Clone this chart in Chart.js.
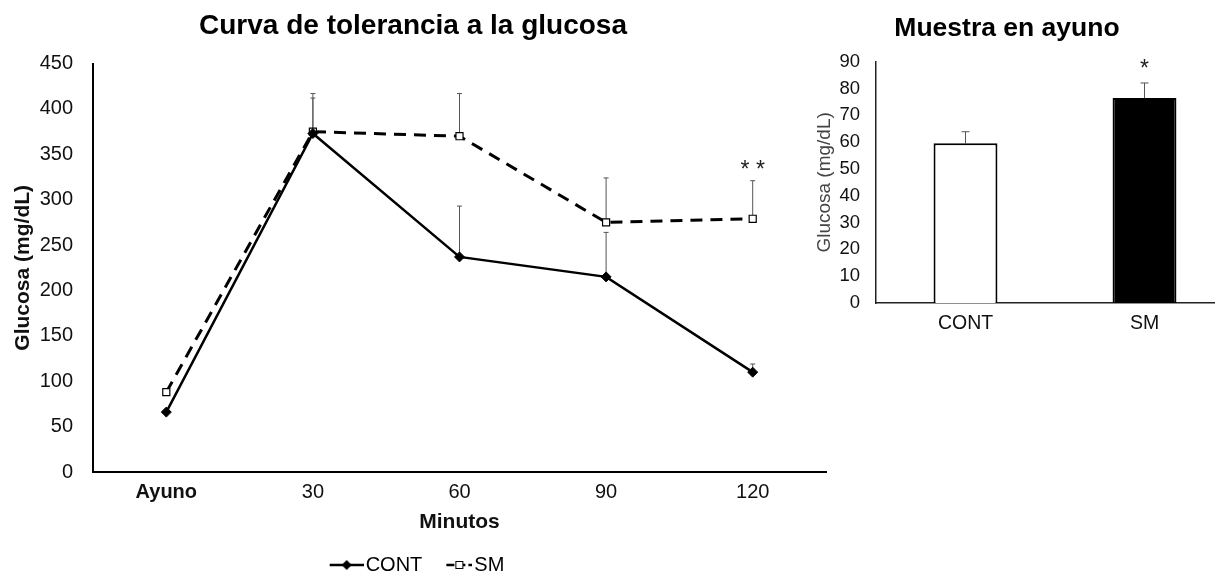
<!DOCTYPE html>
<html>
<head>
<meta charset="utf-8">
<script src="https://cdn.jsdelivr.net/npm/chart.js@4.4.1/dist/chart.umd.min.js"></script>
<style>
  html, body { margin: 0; padding: 0; background: #fff; overflow: hidden; }
  body { width: 1215px; height: 575px; position: relative; }
  #curva { position: absolute; left: 0; top: 0; }
  #ayuno { position: absolute; left: 780px; top: 0; }
</style>
</head>
<body>
<canvas id="curva" width="846" height="575"></canvas>
<canvas id="ayuno" width="460" height="575"></canvas>
<script>
// curva de tolerancia (mg/dL)
var tiempos = ["Ayuno", "30", "60", "90", "120"];
var contMedia = [66, 373, 237, 215, 110];
var contError = [0, 39, 56, 49, 9];
var smMedia = [88, 375, 370, 275, 279];
var smError = [0, 42, 47, 49, 42];
var smSignif = ["", "", "", "", "* *"];
var curvaTicks = [0, 50, 100, 150, 200, 250, 300, 350, 400, 450];

// muestra en ayuno (mg/dL)
var grupos = ["CONT", "SM"];
var ayunoMedia = [59.6, 76.5];
var ayunoError = [4.3, 5.6];
var ayunoSignif = ["", "*"];
var ayunoTicks = [0, 10, 20, 30, 40, 50, 60, 70, 80, 90];

var FUENTE = "'Liberation Sans', Arial, sans-serif";
Chart.defaults.font.family = FUENTE;
Chart.defaults.color = "#111";

// barras de error hacia arriba + asteriscos
var barrasError = {
  id: "barrasError",
  beforeDatasetsDraw: function (chart) {
    var ctx = chart.ctx;
    var yScale = chart.scales.y;
    chart.data.datasets.forEach(function (ds, i) {
      if (!ds.errores) return;
      var meta = chart.getDatasetMeta(i);
      var cap = ds.capa || 3;
      meta.data.forEach(function (el, j) {
        var err = ds.errores[j];
        if (!err) return;
        var y0 = yScale.getPixelForValue(ds.data[j]);
        var y1 = yScale.getPixelForValue(ds.data[j] + err);
        ctx.save();
        ctx.strokeStyle = "#555";
        ctx.lineWidth = 1;
        ctx.beginPath();
        ctx.moveTo(el.x, y0);
        ctx.lineTo(el.x, y1);
        ctx.moveTo(el.x - cap, y1);
        ctx.lineTo(el.x + cap, y1);
        ctx.stroke();
        ctx.restore();
      });
    });
  },
  afterDatasetsDraw: function (chart) {
    var ctx = chart.ctx;
    var yScale = chart.scales.y;
    chart.data.datasets.forEach(function (ds, i) {
      if (!ds.signif) return;
      var meta = chart.getDatasetMeta(i);
      meta.data.forEach(function (el, j) {
        if (!ds.signif[j]) return;
        var yTop = yScale.getPixelForValue(ds.data[j] + (ds.errores[j] || 0));
        ctx.save();
        ctx.font = "23px " + FUENTE;
        ctx.fillStyle = "#222";
        ctx.textAlign = "center";
        ctx.textBaseline = "alphabetic";
        ctx.fillText(ds.signif[j], el.x, yTop - ds.signifGap);
        ctx.restore();
      });
    });
  }
};

// icono de leyenda: linea con marcador al centro (desplazado hacia el texto)
function iconoLeyenda(relleno, forma, discontinua) {
  var c = document.createElement("canvas");
  c.width = 50;
  c.height = 12;
  var g = c.getContext("2d");
  var x0 = discontinua ? 24 : 16;
  var cx = (x0 + 50) / 2;
  g.strokeStyle = "#000";
  g.lineWidth = 2.5;
  if (discontinua) g.setLineDash([8, 3]);
  g.beginPath();
  g.moveTo(x0, 6);
  g.lineTo(50, 6);
  g.stroke();
  g.setLineDash([]);
  g.fillStyle = relleno;
  g.lineWidth = 1;
  if (forma === "rombo") {
    g.beginPath();
    g.moveTo(cx, 1);
    g.lineTo(cx + 5, 6);
    g.lineTo(cx, 11);
    g.lineTo(cx - 5, 6);
    g.closePath();
    g.fill();
  } else {
    g.fillRect(cx - 4, 2, 8, 8);
    g.strokeRect(cx - 3.5, 2.5, 7, 7);
  }
  return c;
}

var iconos = [iconoLeyenda("#000", "rombo", false), iconoLeyenda("#fff", "cuadro", true)];

var curvaData = {
  labels: tiempos,
  datasets: [
    {
      label: "CONT",
      data: contMedia,
      errores: contError,
      capa: 2.5,
      borderColor: "#000",
      borderWidth: 2.5,
      pointStyle: "rectRot",
      pointRadius: 5,
      pointBackgroundColor: "#000",
      pointBorderColor: "#000",
      pointBorderWidth: 1,
      tension: 0
    },
    {
      label: "SM",
      data: smMedia,
      errores: smError,
      capa: 2.5,
      signif: smSignif,
      signifGap: 4,
      borderColor: "#000",
      borderWidth: 3,
      borderDash: [12, 8],
      pointStyle: "rect",
      pointRadius: 5,
      pointBackgroundColor: "#fff",
      pointBorderColor: "#000",
      pointBorderWidth: 1.2,
      tension: 0
    }
  ]
};

new Chart(document.getElementById("curva"), {
  type: "line",
  data: curvaData,
  plugins: [barrasError],
  options: {
    responsive: false,
    animation: false,
    layout: { padding: { left: 0, right: 20, top: 0, bottom: -10 } },
    plugins: {
      title: {
        display: true,
        text: "Curva de tolerancia a la glucosa",
        font: { size: 28, weight: "bold" },
        color: "#000",
        padding: { top: 9, bottom: 21 }
      },
      legend: {
        position: "bottom",
        labels: {
          usePointStyle: true,
          pointStyleWidth: 34,
          font: { size: 20 },
          color: "#111",
          padding: 8,
          generateLabels: function (chart) {
            return chart.data.datasets.map(function (ds, i) {
              return { text: ds.label, pointStyle: iconos[i], datasetIndex: i, lineWidth: 0, fillStyle: "#000", strokeStyle: "#000" };
            });
          }
        }
      },
      tooltip: { enabled: false }
    },
    scales: {
      x: {
        offset: true,
        grid: { display: false, drawTicks: false },
        border: { display: true, color: "#000", width: 2 },
        ticks: {
          padding: 8,
          font: function (ctx) {
            return { size: 20, weight: ctx.index === 0 ? "bold" : "normal" };
          },
          color: "#111"
        },
        title: { display: true, text: "Minutos", font: { size: 21, weight: "bold" }, color: "#111", padding: { top: 0, bottom: 12 } },
        afterFit: function (scale) { scale.height = 75; }
      },
      y: {
        min: 0,
        max: 450,
        afterBuildTicks: function (scale) {
          scale.ticks = curvaTicks.map(function (v) { return { value: v }; });
        },
        grid: { display: false, drawTicks: false },
        border: { display: true, color: "#000", width: 2 },
        ticks: { padding: 20, font: { size: 20 }, color: "#111" },
        title: { display: true, text: "Glucosa (mg/dL)", font: { size: 21, weight: "bold" }, color: "#111", padding: { top: 11, bottom: 0 } },
        afterFit: function (scale) { scale.width = 93; }
      }
    }
  }
});

new Chart(document.getElementById("ayuno"), {
  type: "bar",
  data: {
    labels: grupos,
    datasets: [
      {
        label: "Glucosa",
        data: ayunoMedia,
        errores: ayunoError,
        capa: 4,
        signif: ayunoSignif,
        signifGap: 7,
        backgroundColor: ["#fff", "#000"],
        borderColor: "#000",
        borderWidth: 2,
        barPercentage: 0.357,
        categoryPercentage: 1
      }
    ]
  },
  plugins: [barrasError],
  options: {
    responsive: false,
    animation: false,
    layout: { padding: { left: 0, right: 6, top: 0, bottom: 0 } },
    plugins: {
      title: {
        display: true,
        text: "Muestra en ayuno",
        font: { size: 26.5, weight: "bold" },
        color: "#000",
        padding: { top: 13, bottom: 17 }
      },
      legend: { display: false },
      tooltip: { enabled: false }
    },
    scales: {
      x: {
        grid: { display: false, drawTicks: false },
        border: { display: true, color: "#222", width: 1.5 },
        ticks: { padding: 9, font: { size: 19.5 }, color: "#111" },
        afterFit: function (scale) { scale.height = 272; }
      },
      y: {
        min: 0,
        max: 90,
        afterBuildTicks: function (scale) {
          scale.ticks = ayunoTicks.map(function (v) { return { value: v }; });
        },
        grid: { display: false, drawTicks: false },
        border: { display: true, color: "#222", width: 1.5 },
        ticks: { padding: 16, font: { size: 18.5 }, color: "#111" },
        title: { display: true, text: "Glucosa (mg/dL)", font: { size: 19 }, color: "#444", padding: { top: 33, bottom: 0 } },
        afterFit: function (scale) { scale.width = 96; }
      }
    }
  }
});
</script>
</body>
</html>
